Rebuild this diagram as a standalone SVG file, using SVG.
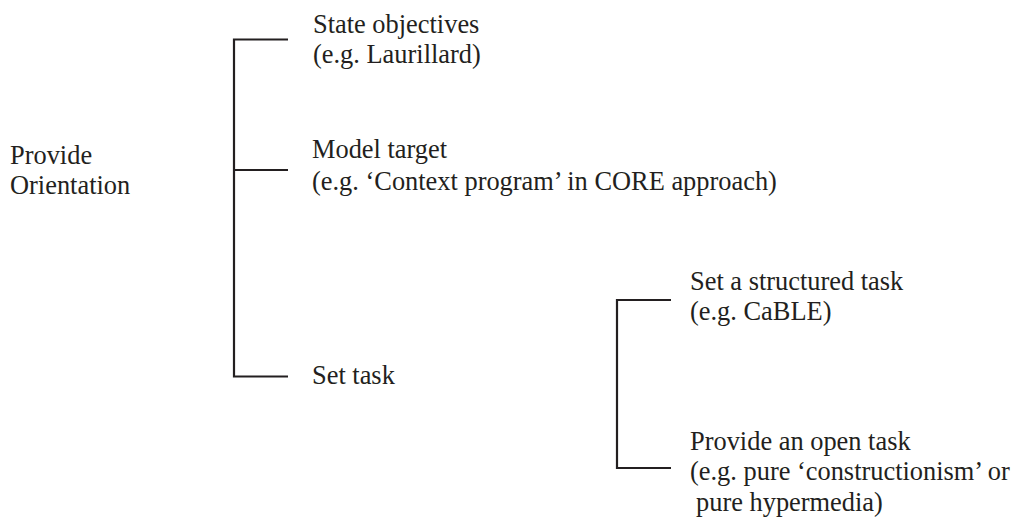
<svg xmlns="http://www.w3.org/2000/svg" width="1015" height="518" viewBox="0 0 1015 518">
<style>
text{font-family:"Liberation Serif","Times New Roman",serif;font-size:26.4px;fill:#231f20}
.ln{stroke:#231f20;stroke-width:2.2;fill:none}
</style>
<rect width="1015" height="518" fill="#fff"/>
<g id="connectors">
<path class="ln" d="M288,39.5 H234 V376.5 H288 M234,170 H288"/>
<path class="ln" d="M671,300 H617 V468 H671"/>
</g>
<g id="root"><text x="10" y="164">Provide</text><text x="10" y="194">Orientation</text></g>
<g id="state-objectives"><text x="313" y="33">State objectives</text><text x="313" y="63">(e.g. Laurillard)</text></g>
<g id="model-target"><text x="312" y="158">Model target</text><text x="312" y="190">(e.g. ‘Context program’ in CORE approach)</text></g>
<g id="set-task"><text x="312" y="384">Set task</text></g>
<g id="structured-task"><text x="690" y="290">Set a structured task</text><text x="690" y="320">(e.g. CaBLE)</text></g>
<g id="open-task"><text x="690" y="450">Provide an open task</text><text x="690" y="480">(e.g. pure ‘constructionism’ or</text><text x="696" y="511">pure hypermedia)</text></g>
</svg>
